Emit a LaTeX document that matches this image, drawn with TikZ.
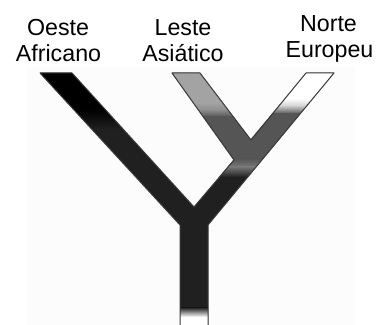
\documentclass[tikz,border=0pt]{standalone}
\usepackage{fontspec}
\setmainfont{Liberation Sans}
\definecolor{armdark}{HTML}{202020}
\definecolor{armmid}{HTML}{555555}
\definecolor{armlight}{HTML}{A3A3A3}
\definecolor{armshine}{HTML}{8E8E8E}
\definecolor{bandshine}{HTML}{787878}
\definecolor{edgegray}{HTML}{3A3A3A}
\definecolor{panel}{HTML}{FCFCFC}
\begin{document}
\begin{tikzpicture}[x=1bp,y=1bp,
  lbl/.style={font=\fontsize{23.3pt}{28pt}\selectfont, inner sep=0pt, anchor=base, text=black},
  outline/.style={draw=edgegray, line width=1bp, line join=round}]
\useasboundingbox (0,0) rectangle (379,325);
\fill[panel] (27,0) rectangle (355,258);

\coordinate (aTL) at (40,252);
\coordinate (aTR) at (72,252);
\coordinate (inner) at (194,118);
\coordinate (cL) at (234,165);
\coordinate (cTL) at (172,252);
\coordinate (cTR) at (200,252);
\coordinate (cb) at (251,185);
\coordinate (bTL) at (306,252);
\coordinate (bTR) at (334,252);
\coordinate (tR) at (208,100);
\coordinate (tBR) at (208,0);
\coordinate (tBL) at (180,0);
\coordinate (tL) at (180,100);

% base fill
\fill[armdark] (tBL) -- (tL) -- (aTL) -- (aTR) -- (inner) -- (cL) -- (cTL) -- (cTR) -- (cb) -- (bTL) -- (bTR) -- (tR) -- (tBR) -- cycle;

% left arm (Oeste Africano)
\begin{scope}
\clip (aTL) -- (aTR) -- (inner) -- (tL) -- cycle;
\fill[black] (30,215) rectangle (200,260);
\shade[top color=black, bottom color=armdark] (30,196) rectangle (200,215.5);
\end{scope}

% middle arm (Leste Asiatico)
\begin{scope}
\clip (cTL) -- (cTR) -- (cb) -- (cL) -- cycle;
\fill[armlight] (160,222) rectangle (260,260);
\shade[top color=armlight, bottom color=armshine] (160,215) rectangle (260,222.5);
\shade[top color=armshine, bottom color=armmid] (160,208) rectangle (260,215.5);
\fill[armmid] (160,150) rectangle (260,208.5);
\end{scope}

% right arm (Norte Europeu) and common branch
\begin{scope}
\clip (bTL) -- (bTR) -- (tR) -- (inner) -- cycle;
\fill[white] (180,226) rectangle (340,260);
\shade[top color=white, bottom color=black!18] (180,219) rectangle (340,226.5);
\shade[top color=black!18, bottom color=armmid] (180,211) rectangle (340,219.5);
\fill[armmid] (180,166) rectangle (340,211.5);
\shade[top color=armmid, bottom color=bandshine] (180,158) rectangle (340,166.5);
\shade[top color=bandshine, bottom color=armdark] (180,148) rectangle (340,158.5);
\end{scope}

% trunk end
\fill[white] (180,0) rectangle (208,8);
\shade[top color=armdark, bottom color=white] (180,8) rectangle (208,17.5);

% outline
\draw[outline] (tBL) -- (tL) -- (aTL) -- (aTR) -- (inner) -- (cL) -- (cTL) -- (cTR) -- (cb) -- (bTL) -- (bTR) -- (tR) -- (tBR);

% labels
\node[lbl] (oeste) at (58,290) {Oeste};
\node[lbl] (africano) at (58.5,264) {Africano};
\node[lbl] (leste) at (183,290) {Leste};
\node[lbl] (asiatico) at (183,264) {Asiático};
\node[lbl] (norte) at (328.5,294) {Norte};
\node[lbl] (europeu) at (329.5,268) {Europeu};
\end{tikzpicture}
\end{document}
